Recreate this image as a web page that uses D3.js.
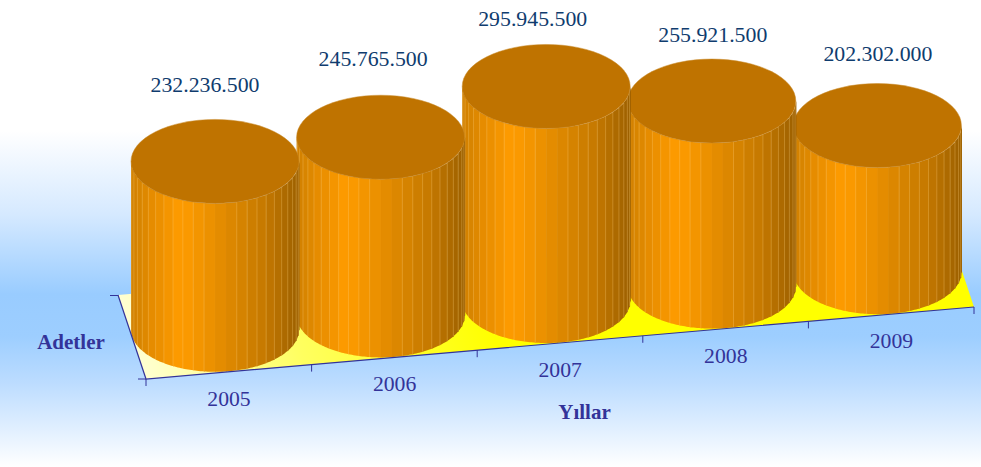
<!DOCTYPE html>
<html><head><meta charset="utf-8">
<script src="https://cdnjs.cloudflare.com/ajax/libs/d3/7.8.5/d3.min.js"></script>
<style>html,body{margin:0;padding:0;background:#fff}svg{display:block}text{font-family:"Liberation Serif",serif}</style>
</head><body><svg id="c" width="981" height="467"></svg>
<script>
const years = ["2005","2006","2007","2008","2009"];
const units = [232236500,245765500,295945500,255921500,202302000];
const unitLabels = ["232.236.500","245.765.500","295.945.500","255.921.500","202.302.000"];
const axisX = "Yıllar", axisZ = "Adetler";

const svg = d3.select("#c");
const defs = svg.append("defs");
const bg = defs.append("linearGradient").attr("id","bg").attr("x1",0).attr("x2",0).attr("y1",0).attr("y2",1);
[[0.28,"#ffffff"],[0.46,"#d5e9ff"],[0.63,"#99ccff"],[0.72,"#9dceff"],[0.82,"#bcdcff"],[1,"#ffffff"]].forEach(s=>bg.append("stop").attr("offset",s[0]).attr("stop-color",s[1]));
const fl = defs.append("linearGradient").attr("id","fl").attr("gradientUnits","userSpaceOnUse").attr("x1",150).attr("y1",390).attr("x2",480).attr("y2",290);
[[0,"#ffffd0"],[0.45,"#ffff60"],[1,"#ffff00"]].forEach(s=>fl.append("stop").attr("offset",s[0]).attr("stop-color",s[1]));
svg.append("rect").attr("width",981).attr("height",467).attr("fill","url(#bg)");

// Oblique floor projection: band position along the front edge, depth along the side edge
const xScale = d3.scaleBand().domain(years).range([146,974]);
const frontY = d3.scaleLinear().domain([146,974]).range([379,307]);
const yScale = d3.scaleLinear().domain([0,300000000]).range([0,217.5]);
const rx = 84, ry = 42;
const cx = d => xScale(d)+xScale.bandwidth()/2 - 13.8;
const baseY = d => frontY(xScale(d)+xScale.bandwidth()/2) - 42;
const axisCol = "#333399";

svg.append("polygon").attr("fill","url(#fl)")
  .attr("points",[[118,295],[146,379],[974,307],[946,223]].join(" "));

const facetCount = 24;
const shade = d3.scaleLinear().domain([0,0.12,0.3,0.55,0.8,1])
  .range(["#cf7f00","#e58c00","#ff9c00","#e28b00","#c47800","#9c6000"]);
const facets = d3.range(facetCount);
const ang = d3.scaleLinear().domain([0,facetCount]).range([Math.PI,0]);

const order = years.map((y,i)=>i).reverse();
const g = svg.selectAll("g.cyl").data(order).join("g").attr("class","cyl");
g.each(function(i){
  const sel = d3.select(this), y = years[i], c = cx(y), b = baseY(y), h = yScale(units[i]), t = b-h;
  sel.selectAll("path.f").data(facets).join("path").attr("class","f")
    .attr("d",k=>{
      const a0=ang(k),a1=ang(k+1),x0=c+rx*Math.cos(a0),x1=c+rx*Math.cos(a1);
      const y0=ry*Math.sin(a0),y1=ry*Math.sin(a1);
      const p=d3.path();
      p.moveTo(x0,t+y0);p.lineTo(x1+0.6,t+y1);p.lineTo(x1+0.6,b+y1);
      for(let m=1;m<=6;m++){const a=a1+(a0-a1)*m/6;p.lineTo(c+rx*Math.cos(a),b+ry*Math.sin(a));}
      p.closePath();return p.toString();
    })
    .attr("fill",k=>shade((c+rx*Math.cos(ang(k+0.5))-(c-rx))/(2*rx)));
  sel.selectAll("line.e").data(facets.slice(1)).join("line").attr("class","e")
    .attr("x1",k=>c+rx*Math.cos(ang(k))).attr("x2",k=>c+rx*Math.cos(ang(k)))
    .attr("y1",k=>t+ry*Math.sin(ang(k))).attr("y2",k=>b+ry*Math.sin(ang(k)))
    .attr("stroke","#ffd27a").attr("stroke-width",0.8)
    .attr("stroke-opacity",k=>(k>=12&&k<=13)?0.06:0.38);
  sel.append("ellipse").attr("cx",c).attr("cy",t).attr("rx",rx).attr("ry",ry)
    .attr("fill","#bf7300").attr("stroke","#c98a2a").attr("stroke-width",0.5);
});

// Axes
svg.append("path").attr("fill","none").attr("stroke",axisCol).attr("stroke-width",1.2)
  .attr("d","M118,295L146,379L974,307");
const tickXs = xScale.domain().map(d=>xScale(d)).concat([974]);
svg.selectAll("line.t").data(tickXs).join("line").attr("class","t")
  .attr("x1",d=>d).attr("x2",d=>d).attr("y1",d=>frontY(d)).attr("y2",d=>frontY(d)+7)
  .attr("stroke",axisCol);
svg.append("path").attr("stroke",axisCol).attr("fill","none").attr("d","M110,295.5H118M138,379H146");

svg.selectAll("text.x").data(years).join("text").attr("class","x")
  .attr("x",d=>cx(d)+14).attr("y",d=>frontY(xScale(d)+xScale.bandwidth()/2)+34)
  .attr("text-anchor","middle").attr("font-size",21.7).attr("fill",axisCol).text(d=>d);
const labelDx=[-10,-7.5,-13.5,1,0.5], labelDy=[-69,-71,-60,-59,-65];
svg.selectAll("text.v").data(years).join("text").attr("class","v")
  .attr("x",(d,i)=>cx(d)+labelDx[i]).attr("y",(d,i)=>baseY(d)-yScale(units[i])+labelDy[i])
  .attr("text-anchor","middle").attr("font-size",21.8).attr("fill","#0f3c6e").text((d,i)=>unitLabels[i]);
svg.append("text").attr("x",584.5).attr("y",419).attr("text-anchor","middle").attr("font-size",21).attr("font-weight","bold").attr("fill",axisCol).text(axisX);
svg.append("text").attr("x",71).attr("y",349).attr("text-anchor","middle").attr("font-size",21).attr("font-weight","bold").attr("fill",axisCol).text(axisZ);
</script></body></html>
